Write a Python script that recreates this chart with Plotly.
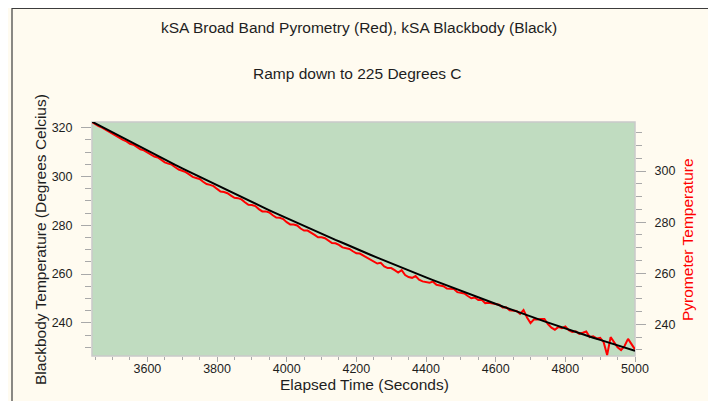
import plotly.graph_objects as go

# ---- data ----
bb_time = list(range(3440, 5001, 20))
bb_temp = [
    322.5, 321.0, 319.5, 317.9, 316.4, 314.9, 313.5, 312.0, 310.5, 309.1,
    307.6, 306.2, 304.7, 303.3, 301.9, 300.5, 299.1, 297.7, 296.3, 294.9,
    293.5, 292.2, 290.8, 289.5, 288.1, 286.8, 285.5, 284.2, 282.9, 281.6,
    280.3, 279.0, 277.8, 276.5, 275.3, 274.0, 272.8, 271.5, 270.3, 269.1,
    267.9, 266.7, 265.5, 264.4, 263.2, 262.0, 260.9, 259.7, 258.6, 257.5,
    256.4, 255.3, 254.2, 253.1, 252.0, 250.9, 249.8, 248.8, 247.7, 246.7,
    245.7, 244.6, 243.6, 242.6, 241.6, 240.6, 239.6, 238.7, 237.7, 236.7,
    235.8, 234.8, 233.9, 233.0, 232.1, 231.2, 230.3, 229.4, 228.5,
]

pyro_time = list(range(3440, 5001, 10))
pyro_temp = [
    319.3, 318.4, 317.6, 317.0, 316.2, 315.2, 314.5, 313.9, 313.0, 312.2,
    311.6, 310.7, 310.3, 309.4, 308.5, 308.1, 307.3, 306.3, 305.7, 305.3,
    304.4, 303.4, 302.9, 302.5, 301.5, 300.6, 300.1, 299.6, 298.7, 297.7,
    297.3, 296.9, 295.8, 294.9, 294.6, 294.1, 293.0, 292.0, 291.8, 291.3,
    290.4, 289.5, 289.4, 288.9, 287.8, 286.8, 286.7, 286.3, 285.1, 284.2,
    284.2, 283.8, 282.7, 281.8, 281.7, 281.2, 280.0, 279.1, 279.1, 278.7,
    277.5, 276.7, 276.7, 276.0, 275.0, 274.1, 274.1, 273.7, 272.7, 271.8,
    271.7, 271.1, 270.1, 269.7, 269.5, 268.6, 267.8, 267.7, 266.9, 266.0,
    265.5, 264.6, 263.8, 264.1, 262.7, 262.0, 262.0, 261.2, 260.3, 261.2,
    259.3, 258.5, 258.2, 258.9, 257.5, 256.8, 256.4, 256.3, 256.7, 255.5,
    255.2, 254.9, 254.0, 253.9, 253.8, 252.6, 252.3, 252.1, 251.1, 250.2,
    250.5, 249.5, 249.6, 248.3, 248.4, 248.2, 247.9, 247.7, 246.6, 246.7,
    245.5, 245.3, 245.2, 244.1, 245.6, 242.7, 240.5, 242.0, 241.9, 242.1,
    242.1, 240.1, 238.7, 237.9, 239.0, 238.5, 239.2, 237.7, 237.0, 237.3,
    236.3, 236.7, 237.2, 235.0, 235.3, 234.5, 234.7, 233.0, 228.0, 235.0,
    233.2, 231.0, 229.9, 231.5, 234.3, 232.0, 230.2,
]

x_ticks = [3600, 3800, 4000, 4200, 4400, 4600, 4800, 5000]
bb_ticks = [240, 260, 280, 300, 320]
pyro_ticks = [240, 260, 280, 300]

title_text = "kSA Broad Band Pyrometry (Red), kSA Blackbody (Black)"
subtitle_text = "Ramp down to 225 Degrees C"
x_title = "Elapsed Time (Seconds)"
bb_title = "Blackbody Temperature (Degrees Celcius)"
pyro_title = "Pyrometer Temperature"

FONT = "Liberation Sans, Arial, sans-serif"
TICKC = "#a9a9a9"
TXT = "#1e1e1e"

# the page adds an 8px body margin: the figure is drawn from (8, 8)
OFF = 8
W, H = 716 - OFF, 401 - OFF
# plot area in reference pixels: x 92..635, y 122..356
ML = 92 - OFF
MT = 122 - OFF
MR = W - (635 - OFF)
MB = H - (356 - OFF)
PW, PH = W - ML - MR, H - MT - MB


def px(xr):
    return (xr - OFF - ML) / PW


def py(yr):
    return (H - MB - (yr - OFF)) / PH


fig = go.Figure()
fig.add_trace(go.Scatter(x=pyro_time, y=pyro_temp, mode="lines",
                         line=dict(color="#ff0000", width=2), yaxis="y",
                         hoverinfo="skip", showlegend=False))
fig.add_trace(go.Scatter(x=bb_time, y=bb_temp, mode="lines",
                         line=dict(color="#000000", width=2), yaxis="y2",
                         hoverinfo="skip", showlegend=False))

axis_common = dict(showgrid=False, zeroline=False, showline=False,
                   ticks="outside", tickwidth=1, tickcolor=TICKC,
                   tickfont=dict(family=FONT, size=12.5, color=TXT))

fig.update_layout(
    width=W, height=H,
    margin=dict(l=ML, r=MR, t=MT, b=MB, pad=0),
    paper_bgcolor="#FFFBF0",
    plot_bgcolor="#C0DCC0",
    showlegend=False,
    xaxis=dict(range=[3441, 5000], tickvals=x_ticks, ticklen=5,
               ticklabelstandoff=-4,
               minor=dict(ticks="outside", ticklen=3, dtick=50, tick0=3400,
                          tickcolor=TICKC, showgrid=False),
               **axis_common),
    yaxis=dict(range=[227.6, 319.2], tickvals=pyro_ticks, side="right",
               ticklen=10, ticklabelstandoff=6,
               minor=dict(ticks="outside", ticklen=6, dtick=5, tick0=0,
                          tickcolor=TICKC, showgrid=False),
               **axis_common),
    yaxis2=dict(range=[226.4, 322.3], tickvals=bb_ticks, side="left",
                overlaying="y", ticklen=10, ticklabelstandoff=6,
                minor=dict(ticks="outside", ticklen=6, dtick=5, tick0=0,
                           tickcolor=TICKC, showgrid=False),
                **axis_common),
    shapes=[
        dict(type="rect", xref="paper", yref="paper", x0=0, x1=1, y0=0, y1=1,
             line=dict(color="#c9c9c9", width=1.5), fillcolor="rgba(0,0,0,0)",
             layer="below"),
        dict(type="rect", xref="paper", yref="paper", x0=px(12), x1=px(712),
             y0=py(420), y1=py(8.5), line=dict(color="#3c3c3c", width=1.2),
             fillcolor="rgba(0,0,0,0)"),
    ],
    annotations=[
        dict(text=title_text, xref="paper", yref="paper", x=px(359), y=py(27),
             showarrow=False, font=dict(family=FONT, size=15.5, color=TXT),
             xanchor="center", yanchor="middle"),
        dict(text=subtitle_text, xref="paper", yref="paper", x=px(357), y=py(73),
             showarrow=False, font=dict(family=FONT, size=15.5, color=TXT),
             xanchor="center", yanchor="middle"),
        dict(text=x_title, xref="paper", yref="paper", x=px(364), y=py(384),
             showarrow=False, font=dict(family=FONT, size=15.5, color=TXT),
             xanchor="center", yanchor="middle"),
        dict(text=bb_title, xref="paper", yref="paper", x=px(40), y=py(240),
             showarrow=False, textangle=-90,
             font=dict(family=FONT, size=15.5, color=TXT),
             xanchor="center", yanchor="middle"),
        dict(text=pyro_title, xref="paper", yref="paper", x=px(687), y=py(240),
             showarrow=False, textangle=-90,
             font=dict(family=FONT, size=15.5, color="#ff0000"),
             xanchor="center", yanchor="middle"),
    ],
)

fig.write_html("out.html")
